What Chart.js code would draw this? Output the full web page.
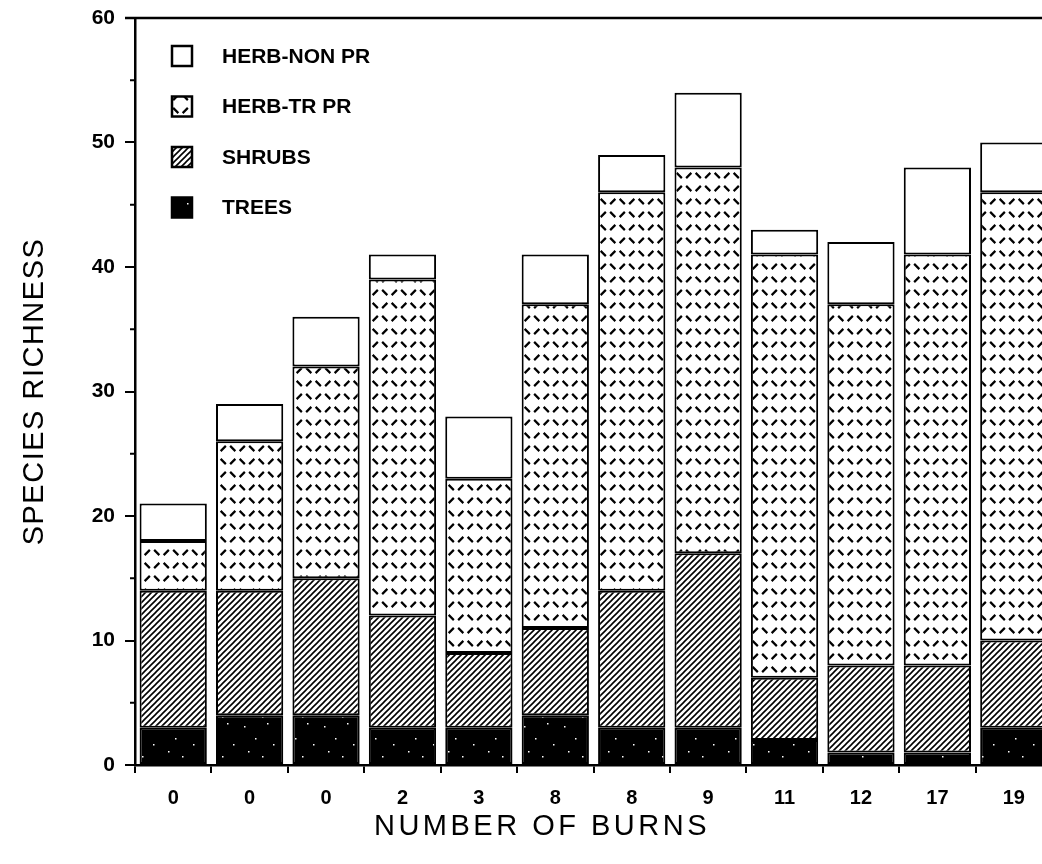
<!DOCTYPE html>
<html>
<head>
<meta charset="utf-8">
<script src="https://cdn.jsdelivr.net/npm/chart.js@4/dist/chart.umd.min.js"></script>
<style>
  html, body { margin: 0; padding: 0; background: #fff; overflow: hidden; }
  #wrap { width: 1052px; height: 864px; }
</style>
</head>
<body>
<div id="wrap"><canvas id="c" width="1052" height="864"></canvas></div>
<script>
// ---- data ----
const categories = ['0', '0', '0', '2', '3', '8', '8', '9', '11', '12', '17', '19'];
const trees      = [3, 4, 4, 3, 3, 4, 3, 3, 2, 1, 1, 3];
const shrubs     = [11, 10, 11, 9, 6, 7, 11, 14, 5, 7, 7, 7];
const herbTrPr   = [4, 12, 17, 27, 14, 26, 32, 31, 34, 29, 33, 36];
const herbNonPr  = [3, 3, 4, 2, 5, 4, 3, 6, 2, 5, 7, 4];
const yTicks     = [0, 10, 20, 30, 40, 50, 60];
const yMinorTicks = [5, 15, 25, 35, 45, 55];
const seriesLabels = ['TREES', 'SHRUBS', 'HERB-TR PR', 'HERB-NON PR'];
const xTitle = 'NUMBER OF BURNS';
const yTitle = 'SPECIES RICHNESS';

// ---- fill patterns ----
function makeTile(w, h, draw) {
  const c = document.createElement('canvas');
  c.width = w; c.height = h;
  const g = c.getContext('2d');
  draw(g, w, h);
  return document.getElementById('c').getContext('2d').createPattern(c, 'repeat');
}
const treesPattern = makeTile(40, 40, (g, w, h) => {
  g.fillStyle = '#000'; g.fillRect(0, 0, w, h);
  g.fillStyle = '#fff';
  [[4,6],[27,3],[15,18],[33,24],[8,31],[22,36]].forEach(p => g.fillRect(p[0], p[1], 1.5, 1.5));
});
const shrubsPattern = makeTile(6, 6, (g, w, h) => {
  g.fillStyle = '#fff'; g.fillRect(0, 0, w, h);
  g.strokeStyle = '#000'; g.lineWidth = 1.6;
  g.beginPath();
  g.moveTo(-1, h + 1); g.lineTo(w + 1, -1);
  g.moveTo(-1, 1); g.lineTo(1, -1);
  g.moveTo(w - 1, h + 1); g.lineTo(w + 1, h - 1);
  g.stroke();
});
const herbTrPattern = makeTile(19, 26, (g, w, h) => {
  g.fillStyle = '#fff'; g.fillRect(0, 0, w, h);
  g.strokeStyle = '#000'; g.lineWidth = 2.2; g.lineCap = 'butt';
  const d = 2.6;
  function back(x, y) { g.moveTo(x - d, y - d); g.lineTo(x + d, y + d); }
  function fwd(x, y)  { g.moveTo(x - d, y + d); g.lineTo(x + d, y - d); }
  g.beginPath();
  back(4.75, 6.5); fwd(14.25, 6.5);
  fwd(4.75, 19.5); back(14.25, 19.5);
  g.stroke();
});
const fills = [treesPattern, shrubsPattern, herbTrPattern, '#ffffff'];
const seriesData = [trees, shrubs, herbTrPr, herbNonPr];

const FONT = "'Liberation Sans', Arial, Helvetica, sans-serif";

const decorPlugin = {
  id: 'decor',
  afterDraw(chart) {
    const ctx = chart.ctx;
    const ca = chart.chartArea;
    const y = chart.scales.y;
    ctx.save();
    // top frame line
    ctx.strokeStyle = '#000'; ctx.lineWidth = 2.5;
    ctx.beginPath(); ctx.moveTo(ca.left - 10, ca.top); ctx.lineTo(ca.right, ca.top); ctx.stroke();
    // minor ticks on y axis
    ctx.lineWidth = 2;
    yMinorTicks.forEach(v => {
      const py = y.getPixelForValue(v);
      ctx.beginPath(); ctx.moveTo(ca.left - 5, py); ctx.lineTo(ca.left, py); ctx.stroke();
    });
    // legend (reversed order)
    const items = chart.data.datasets.map(ds => ({ label: ds.label, fill: ds.backgroundColor })).reverse();
    ctx.font = 'bold 21px ' + FONT;
    ctx.textBaseline = 'middle';
    ctx.textAlign = 'left';
    items.forEach((it, i) => {
      const cy = 56 + i * 50.5;
      ctx.fillStyle = it.fill;
      ctx.fillRect(172, cy - 10, 20, 20);
      ctx.strokeStyle = '#000'; ctx.lineWidth = 2.5;
      ctx.strokeRect(172, cy - 10, 20, 20);
      ctx.fillStyle = '#000';
      ctx.fillText(it.label, 222, cy + 1);
    });
    // axis titles
    ctx.fillStyle = '#000';
    ctx.font = '29px ' + FONT;
    ctx.textAlign = 'center';
    ctx.textBaseline = 'middle';
    try { ctx.letterSpacing = '3.5px'; } catch (e) {}
    ctx.fillText(xTitle, 542, 827);
    ctx.save();
    ctx.translate(35, (ca.top + ca.bottom) / 2);
    ctx.rotate(-Math.PI / 2);
    try { ctx.letterSpacing = '1.5px'; } catch (e) {}
    ctx.fillText(yTitle, 0, 0);
    ctx.restore();
    ctx.restore();
  }
};

new Chart(document.getElementById('c'), {
  type: 'bar',
  data: {
    labels: categories,
    datasets: seriesLabels.map((lab, i) => ({
      label: lab,
      data: seriesData[i],
      backgroundColor: fills[i],
      borderColor: '#000',
      borderWidth: 2,
      borderSkipped: false,
      categoryPercentage: 1.0,
      barPercentage: 0.88
    }))
  },
  options: {
    responsive: false,
    animation: false,
    devicePixelRatio: 1,
    layout: { padding: { top: 18, right: 0, left: 0, bottom: 0 } },
    plugins: { legend: { display: false }, tooltip: { enabled: false } },
    scales: {
      x: {
        stacked: true,
        offset: true,
        afterFit(s) { s.height = 99; s.paddingLeft = 0; s.paddingRight = 0; },
        grid: { offset: true, drawOnChartArea: false, drawTicks: true, tickLength: 8, color: '#000', lineWidth: 2 },
        border: { display: true, color: '#000', width: 2.5 },
        ticks: { color: '#000', font: { family: FONT, size: 20, weight: 'bold' }, padding: 13, maxRotation: 0, autoSkip: false }
      },
      y: {
        stacked: true,
        min: 0, max: 60,
        afterFit(s) { s.width = 135; s.paddingTop = 0; s.paddingBottom = 0; },
        afterBuildTicks(s) { s.ticks = yTicks.map(v => ({ value: v })); },
        grid: { drawOnChartArea: false, drawTicks: true, tickLength: 10, color: '#000', lineWidth: 2 },
        border: { display: true, color: '#000', width: 2.5 },
        ticks: { color: '#000', font: { family: FONT, size: 21, weight: 'bold' }, padding: 10 }
      }
    }
  },
  plugins: [decorPlugin]
});
</script>
</body>
</html>
